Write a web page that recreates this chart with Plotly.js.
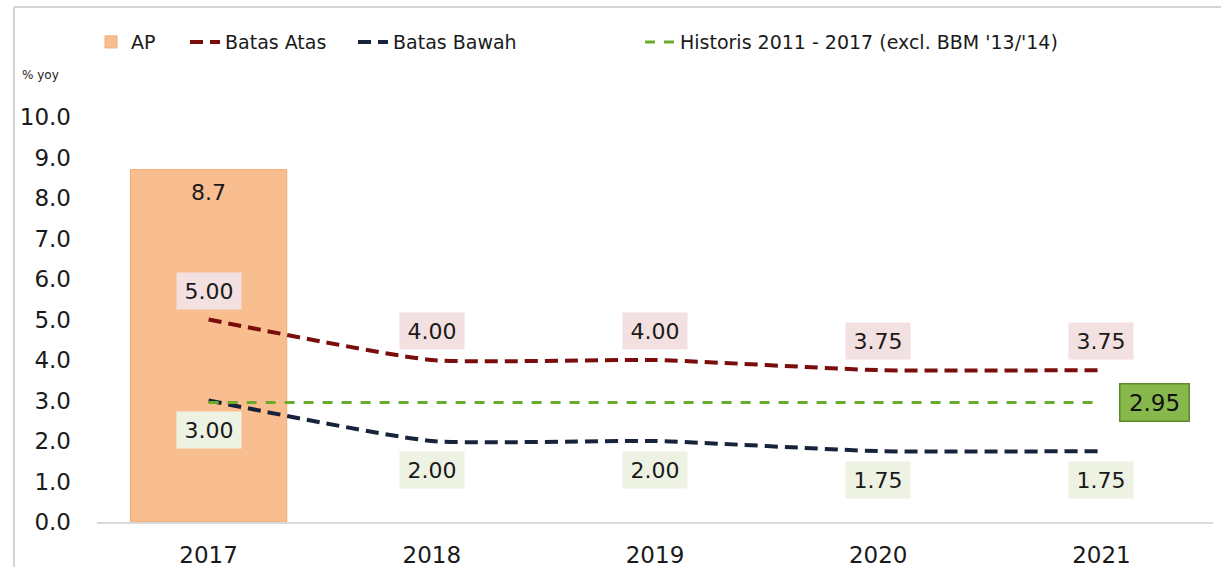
<!DOCTYPE html>
<html>
<head>
<meta charset="utf-8">
<script src="https://cdn.plot.ly/plotly-3.0.1.min.js"></script>
<style>html,body{margin:0;padding:0;background:#fff;}#chart{width:1221px;height:567px;}</style>
</head>
<body>
<div id="chart"></div>
<script>
// ---- data ----
const years = ["2017", "2018", "2019", "2020", "2021"];
const apYears = ["2017"];
const apValues = [8.7];
const batasAtas = [5.00, 4.00, 4.00, 3.75, 3.75];
const batasBawah = [3.00, 2.00, 2.00, 1.75, 1.75];
const historis = [2.95, 2.95, 2.95, 2.95, 2.95];
const historisLabel = 2.95;
const yTicks = [0, 1, 2, 3, 4, 5, 6, 7, 8, 9, 10];

const FONT = "DejaVu Sans, sans-serif";
const TXT = "#1a1a1a";
const px2x = p => (p - 97) / 1116;

const traces = [
  {
    type: "bar", name: "AP", x: apYears, y: apValues,
    marker: {color: "#f8be90", line: {color: "#f1aa72", width: 1}},
    hoverinfo: "skip", legend: "legend"
  },
  {
    type: "scatter", mode: "lines", name: "Batas Atas", x: years, y: batasAtas,
    line: {color: "#7a0c0c", width: 4, dash: "13px,7px", shape: "spline", smoothing: 0.5},
    legend: "legend2"
  },
  {
    type: "scatter", mode: "lines", name: "Batas Bawah", x: years, y: batasBawah,
    line: {color: "#17223b", width: 4, dash: "13px,7px", shape: "spline", smoothing: 0.5},
    legend: "legend3"
  },
  {
    type: "scatter", mode: "lines", name: "Historis 2011 - 2017 (excl. BBM '13/'14)", x: years, y: historis,
    line: {color: "#6aac2a", width: 3, dash: "10px,9px"},
    legend: "legend4"
  }
];

const annotations = [];
const idx = yr => years.indexOf(yr);
const labFont = {family: FONT, size: 22, color: TXT};
// bar label
annotations.push({x: idx(apYears[0]), y: apValues[0], text: apValues[0].toFixed(1), showarrow: false,
  yshift: -23, font: labFont});
// value labels
years.forEach((yr, i) => {
  annotations.push({x: i, y: batasAtas[i], text: batasAtas[i].toFixed(2), showarrow: false,
    yshift: 29, bgcolor: "#f3e0e0", width: 62, height: 34, borderpad: 1, font: labFont});
  annotations.push({x: i, y: batasBawah[i], text: batasBawah[i].toFixed(2), showarrow: false,
    yshift: -29, bgcolor: "#edf2e2", width: 62, height: 34, borderpad: 1, font: labFont});
});
// historis label
annotations.push({x: years.length - 1, y: historisLabel, text: historisLabel.toFixed(2), showarrow: false,
  xshift: 53, bgcolor: "#86b84c", bordercolor: "#5a8a2a", borderwidth: 1.5, borderpad: 1,
  width: 66, height: 34, font: {family: FONT, size: 23, color: "#111111"}});
// unit label
annotations.push({xref: "paper", yref: "paper", x: -0.069, y: 1.1037, xanchor: "left", yanchor: "middle",
  text: "% yoy", showarrow: false, font: {family: FONT, size: 12, color: TXT}});

const legBase = {orientation: "h", y: 1.185, xanchor: "left", yanchor: "middle",
  font: {family: FONT, size: 19, color: TXT}, bgcolor: "rgba(0,0,0,0)"};

const layout = {
  width: 1221, height: 567,
  margin: {l: 97, r: 8, t: 117, b: 45},
  paper_bgcolor: "#ffffff", plot_bgcolor: "#ffffff",
  font: {family: FONT, color: TXT},
  bargap: 0.3,
  showlegend: true,
  legend: Object.assign({}, legBase, {x: px2x(91)}),
  legend2: Object.assign({}, legBase, {x: px2x(185)}),
  legend3: Object.assign({}, legBase, {x: px2x(353)}),
  legend4: Object.assign({}, legBase, {x: px2x(640)}),
  xaxis: {type: "category", categoryorder: "array", categoryarray: years, range: [-0.5, 4.5],
    showgrid: false, zeroline: false, showline: true, linecolor: "#d9d9d9", linewidth: 2,
    ticks: "", ticklabelstandoff: 11, tickfont: {family: FONT, size: 23, color: TXT}, fixedrange: true},
  yaxis: {range: [0, 10], tickvals: yTicks, ticktext: yTicks.map(v => v.toFixed(1)),
    showgrid: false, zeroline: false, showline: false, ticks: "", ticklabelstandoff: 25,
    tickfont: {family: FONT, size: 23, color: TXT}, fixedrange: true},
  annotations: annotations,
  shapes: [
    {type: "line", xref: "paper", yref: "paper", x0: -0.0744, x1: -0.0744, y0: 1.2716, y1: -0.12,
      line: {color: "#d4d4d4", width: 2}},
    {type: "line", xref: "paper", yref: "paper", x0: -0.0744, x1: 1.01, y0: 1.2716, y1: 1.2716,
      line: {color: "#d4d4d4", width: 2}}
  ]
};

Plotly.newPlot("chart", traces, layout, {displayModeBar: false, staticPlot: true});
</script>
</body>
</html>
